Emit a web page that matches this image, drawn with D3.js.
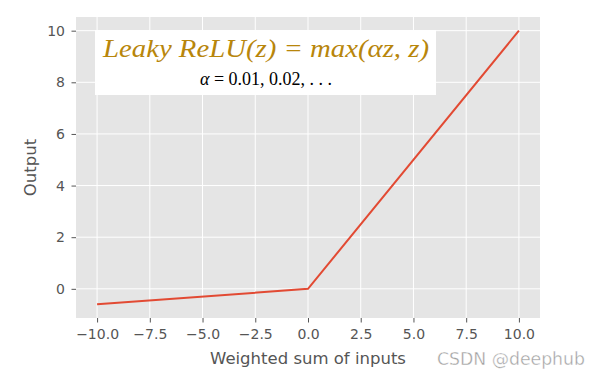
<!DOCTYPE html>
<html lang="en">
<head>
<meta charset="utf-8">
<title>Leaky ReLU</title>
<script src="https://d3js.org/d3.v7.min.js"></script>
<style>
  body { margin: 0; background: #fff; }
  .tick line { stroke: #555; }
  .domain { display: none; }
</style>
</head>
<body>
<script>
// data: the leaky relu curve, alpha = 0.06
const inputs = [-10, 0, 10];
const outputs = [-0.6, 0, 10];
const xTicks = [-10, -7.5, -5, -2.5, 0, 2.5, 5, 7.5, 10];
const yTicks = [0, 2, 4, 6, 8, 10];

const W = 600, H = 378;
const mLeft = 76, mRight = 540, mTop = 17, mBottom = 318;

const svg = d3.select("body").append("svg").attr("width", W).attr("height", H);

const x = d3.scaleLinear().domain([-11, 11]).range([mLeft, mRight]);
const y = d3.scaleLinear().domain([-1.13, 10.53]).range([mBottom, mTop]);

// background
svg.append("rect").attr("x", mLeft).attr("y", mTop)
  .attr("width", mRight - mLeft).attr("height", mBottom - mTop).attr("fill", "#e5e5e5");

// grid
svg.append("g").selectAll("line").data(xTicks).join("line")
  .attr("x1", d => x(d)).attr("x2", d => x(d)).attr("y1", mTop).attr("y2", mBottom)
  .attr("stroke", "#fff").attr("stroke-width", 1);
svg.append("g").selectAll("line").data(yTicks).join("line")
  .attr("y1", d => y(d)).attr("y2", d => y(d)).attr("x1", mLeft).attr("x2", mRight)
  .attr("stroke", "#fff").attr("stroke-width", 1);

// axes
const styleTicks = g => g.attr("font-family", "'DejaVu Sans', sans-serif").attr("font-size", 14)
  .selectAll("text").attr("fill", "#555");
svg.append("g").attr("transform", `translate(0,${mBottom})`)
  .call(d3.axisBottom(x).tickValues(xTicks).tickSize(4.5).tickPadding(6.5))
  .call(styleTicks)
  .call(g => g.selectAll("text").text(d => d3.format(".1f")(d).replace("-", "\u2212")));
svg.append("g").attr("transform", `translate(${mLeft},0)`)
  .call(d3.axisLeft(y).tickValues(yTicks).tickSize(4.5).tickPadding(6.5))
  .call(styleTicks);

// line
svg.append("path")
  .datum(inputs.map((v, i) => [v, outputs[i]]))
  .attr("fill", "none").attr("stroke", "#E24A33").attr("stroke-width", 2)
  .attr("d", d3.line().x(d => x(d[0])).y(d => y(d[1])));

// text box
svg.append("rect").attr("x", 95).attr("y", 30).attr("width", 341).attr("height", 65).attr("fill", "#fff");
svg.append("text").attr("x", 266).attr("y", 57).attr("text-anchor", "middle")
  .attr("font-family", "'Liberation Serif', serif").attr("font-style", "italic")
  .attr("font-size", 26).attr("fill", "#b8860b")
  .attr("textLength", 326).attr("lengthAdjust", "spacingAndGlyphs")
  .text("Leaky ReLU(z) = max(\u03b1z, z)");
svg.append("text").attr("x", 266).attr("y", 85).attr("text-anchor", "middle")
  .attr("font-family", "'Liberation Serif', serif").attr("font-size", 18).attr("fill", "#000")
  .html("<tspan font-style='italic'>\u03b1</tspan> = 0.01, 0.02, . . .");

// axis labels
svg.append("text").attr("x", (mLeft + mRight) / 2).attr("y", 364).attr("text-anchor", "middle")
  .attr("font-family", "'DejaVu Sans', sans-serif").attr("font-size", 16.5).attr("fill", "#555")
  .text("Weighted sum of inputs");
svg.append("text").attr("transform", `translate(36,${(mTop + mBottom) / 2}) rotate(-90)`)
  .attr("text-anchor", "middle")
  .attr("font-family", "'DejaVu Sans', sans-serif").attr("font-size", 16.5).attr("fill", "#555")
  .text("Output");

// watermark
svg.append("text").attr("x", 585).attr("y", 365).attr("text-anchor", "end")
  .attr("font-family", "'DejaVu Sans', sans-serif").attr("font-size", 17.3)
  .attr("fill", "#a0a0a0").attr("stroke", "#fff").attr("stroke-width", 0.4)
  .text("CSDN @deephub");
</script>
</body>
</html>
